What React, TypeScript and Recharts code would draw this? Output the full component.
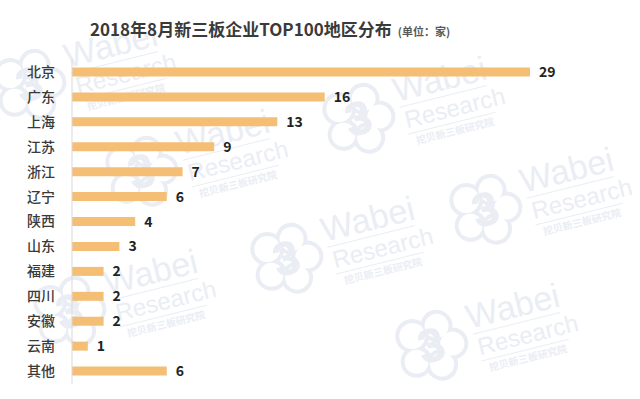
import { Bar, BarChart, LabelList, XAxis, YAxis } from "recharts";

const regions = ["北京", "广东", "上海", "江苏", "浙江", "辽宁", "陕西", "山东", "福建", "四川", "安徽", "云南", "其他"];
const counts = [29, 16, 13, 9, 7, 6, 4, 3, 2, 2, 2, 1, 6];

const rows = regions.map((name, i) => ({ name, value: counts[i] }));

const FONT = '"Noto Sans CJK SC", "Noto Sans", sans-serif';
const MARK = "#eaedf4";

// watermark lattice (cloud centre positions), only the ones inside the picture
const marks: [number, number][] = [
  [285, 258], [484, 209], [430, 345], [140, 171], [357, 118], [28, 84], [68, 311],
];

function Watermark({ x, y }: { x: number; y: number }) {
  const puffs: [number, number, number][] = [
    [-15, -13, 17], [11, -17, 16], [22, 4, 16], [7, 22, 16], [-17, 13, 16],
  ];
  return (
    <g transform={`translate(${x} ${y}) rotate(-14)`}>
      {puffs.map(([cx, cy, r], i) => (
        <circle key={"a" + i} cx={cx} cy={cy} r={r} fill={MARK} />
      ))}
      {puffs.map(([cx, cy, r], i) => (
        <circle key={"b" + i} cx={cx} cy={cy} r={r - 4} fill="#fff" />
      ))}
      <text x={1} y={17} textAnchor="middle" fontSize={48} fontWeight={700} fill={MARK} fontFamily="Arial, sans-serif">
        3
      </text>
      <text x={42} y={-6} fontSize={34} fill={MARK} fontFamily="Liberation Sans, sans-serif">
        Wabei
      </text>
      <line x1={44} y1={0} x2={134} y2={0} stroke={MARK} strokeWidth={1} />
      <text x={46} y={22} fontSize={24} fill={MARK} fontFamily="Liberation Sans, sans-serif">
        Research
      </text>
      <line x1={46} y1={28} x2={136} y2={28} stroke={MARK} strokeWidth={1} />
      <text x={52} y={40} fontSize={10} fontWeight={700} fill={MARK} fontFamily={FONT}>
        挖贝新三板研究院
      </text>
    </g>
  );
}

export default function App() {
  return (
    <div style={{ position: "absolute", left: 0, top: 0, width: 640, height: 399, background: "#fff", overflow: "hidden" }}>
      <svg width={640} height={399} style={{ position: "absolute", left: 0, top: 0 }}>
        {marks.map(([x, y], i) => (
          <Watermark key={i} x={x} y={y} />
        ))}
      </svg>
      <div
        style={{
          position: "absolute",
          left: 90,
          top: 17,
          fontFamily: FONT,
          color: "#3a3a3a",
          whiteSpace: "nowrap",
          lineHeight: "24px",
        }}
      >
        <span style={{ fontSize: 17, fontWeight: 700 }}>2018年8月新三板企业TOP100地区分布</span>
        <span style={{ fontSize: 11, fontWeight: 700, color: "#595959", marginLeft: 6 }}>(单位：家)</span>
      </div>
      <div style={{ position: "absolute", left: 0, top: 0 }}>
        <BarChart
          width={640}
          height={399}
          data={rows}
          layout="vertical"
          margin={{ top: 59.5, right: 110, bottom: 15.5, left: 0 }}
        >
          <XAxis type="number" domain={[0, 29]} hide />
          <YAxis
            type="category"
            dataKey="name"
            width={72}
            axisLine={{ stroke: "#d9d9d9" }}
            tickLine={false}
            tickMargin={11}
            interval={0}
            tick={{ fill: "#3a3a3a", fontSize: 14, fontWeight: 500, fontFamily: FONT }}
          />
          <Bar dataKey="value" fill="#f4be74" barSize={9} isAnimationActive={false}>
            <LabelList
              dataKey="value"
              position="right"
              offset={9}
              fill="#222"
              fontSize={14}
              fontWeight={700}
              fontFamily={FONT}
            />
          </Bar>
        </BarChart>
      </div>
    </div>
  );
}
